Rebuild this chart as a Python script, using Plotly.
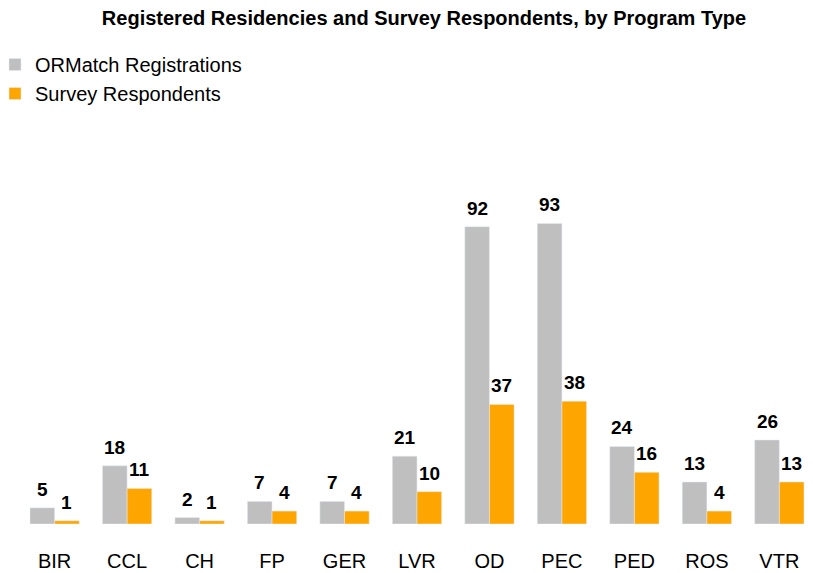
import plotly.graph_objects as go

# colours
GRAY = '#BFBFBF'
ORANGE = '#FFA500'
FONT = 'Liberation Sans, Arial, sans-serif'

programs = ['BIR', 'CCL', 'CH', 'FP', 'GER', 'LVR', 'OD', 'PEC', 'PED', 'ROS', 'VTR']
registrations = [5, 18, 2, 7, 7, 21, 92, 93, 24, 13, 26]
respondents = [1, 11, 1, 4, 4, 10, 37, 38, 16, 4, 13]

fig = go.Figure()
fig.add_trace(go.Bar(x=programs, y=registrations, name='ORMatch Registrations', marker_color=GRAY))
fig.add_trace(go.Bar(x=programs, y=respondents, name='Survey Respondents', marker_color=ORANGE))

# value labels above each bar
annotations = []
for vals, shift in [(registrations, -12.3), (respondents, 12.3)]:
    for p, v in zip(programs, vals):
        annotations.append(dict(
            x=p, y=v, text=str(v), showarrow=False,
            xshift=shift, yshift=6, yanchor='bottom',
            font=dict(family=FONT, size=19, color='black', weight='bold')
        ))

# page body adds an 8px margin, keep the figure inside the visible window
fig.update_layout(
    width=797, height=565,
    barmode='group', bargap=0.32, bargroupgap=0,
    plot_bgcolor='white', paper_bgcolor='white',
    margin=dict(l=10, r=0, t=112, b=49, autoexpand=False),
    font=dict(family=FONT, color='black'),
    title=dict(
        text='<b>Registered Residencies and Survey Respondents, by Program Type</b>',
        font=dict(size=20, color='black'),
        xref='container', x=416 / 797, xanchor='center',
        yref='container', y=1 - 10 / 565, yanchor='middle',
    ),
    legend=dict(
        xref='paper', yref='paper',
        x=-0.0292, xanchor='left', y=1.1856, yanchor='top',
        font=dict(size=20), tracegroupgap=0,
    ),
    annotations=annotations,
    xaxis=dict(
        range=[-0.5056, 10.354], showgrid=False, showline=False, zeroline=False,
        tickfont=dict(size=20), ticks='', ticklabelstandoff=23,
    ),
    yaxis=dict(range=[0, 125], visible=False, showgrid=False),
)

fig.write_html('out.html')
